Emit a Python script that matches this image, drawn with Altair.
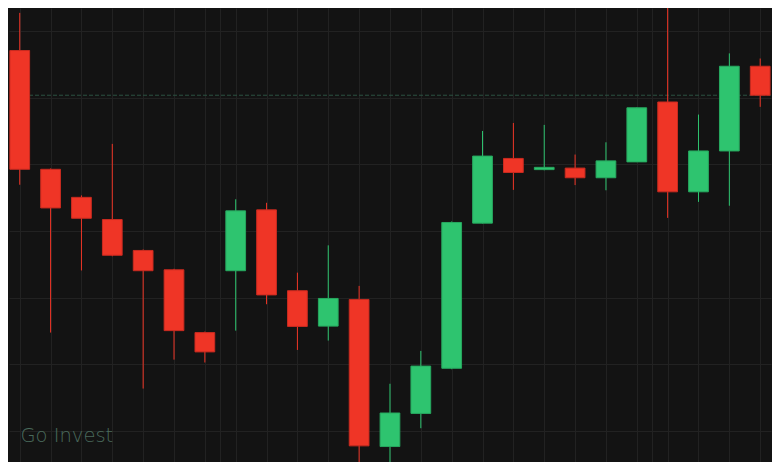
import altair as alt
import pandas as pd

# ---- data ----
idx = list(range(25))
opens = [157.10, 139.28, 135.07, 131.74, 127.10, 124.20, 114.78, 124.06, 133.19, 121.06,
         115.75, 119.75, 97.68, 102.65, 109.42, 131.20, 140.91, 139.23, 139.46, 138.01,
         140.39, 149.38, 135.90, 142.03, 154.74]
closes = [139.28, 133.48, 131.93, 126.38, 124.06, 115.07, 111.88, 133.04, 120.43, 115.70,
          119.90, 97.78, 102.71, 109.75, 131.30, 141.26, 138.80, 139.57, 138.01, 140.54,
          148.51, 135.90, 142.03, 154.74, 150.39]
highs = [162.75, 139.40, 135.36, 143.09, 127.25, 124.35, 114.93, 134.78, 134.25, 123.77,
         127.87, 121.78, 107.10, 112.03, 131.45, 145.03, 146.23, 145.94, 141.49, 143.33,
         148.55, 164.20, 147.49, 156.67, 155.90]
lows = [136.96, 114.78, 124.10, 126.23, 106.38, 110.72, 110.29, 115.07, 119.03, 112.17,
        113.58, 94.49, 94.49, 100.43, 109.28, 131.16, 136.19, 139.13, 136.91, 136.13,
        140.36, 131.99, 134.39, 133.81, 148.65]
x_grid = list(range(25)) + [6.5, 20.5]
y_grid = [100, 110, 120, 130, 140, 150, 160]
last_price = [closes[-1]]
watermark = ["Go Invest"]

BG = "#131313"
GRID = "#222222"
RED = "#ef3526"
GREEN = "#2ec46f"
RED_EDGE = "#c92b20"
GREEN_EDGE = "#27a85f"

df = pd.DataFrame({"i": idx, "open": opens, "close": closes, "high": highs, "low": lows})
df["dir"] = ["up" if c >= o else "down" for o, c in zip(opens, closes)]

xs = alt.Scale(domain=[-0.348, 24.35], nice=False, zero=False)
ys = alt.Scale(domain=[95.36, 163.48], nice=False, zero=False)
xaxis = alt.Axis(values=x_grid, title=None)
yaxis = alt.Axis(values=y_grid, title=None)
fill_scale = alt.Scale(domain=["up", "down"], range=[GREEN, RED])
edge_scale = alt.Scale(domain=["up", "down"], range=[GREEN_EDGE, RED_EDGE])

base = alt.Chart(df)

wicks = base.mark_rule(strokeWidth=1, clip=True).encode(
    x=alt.X("i:Q", scale=xs, axis=xaxis),
    y=alt.Y("low:Q", scale=ys, axis=yaxis),
    y2="high:Q",
    color=alt.Color("dir:N", scale=fill_scale, legend=None),
)

bodies = base.transform_calculate(
    x0="datum.i - 0.32", x1="datum.i + 0.32"
).mark_bar(strokeWidth=1, clip=True).encode(
    x=alt.X("x0:Q", scale=xs, axis=xaxis),
    x2="x1:Q",
    y=alt.Y("open:Q", scale=ys, axis=yaxis),
    y2="close:Q",
    fill=alt.Fill("dir:N", scale=fill_scale, legend=None),
    stroke=alt.Stroke("dir:N", scale=edge_scale, legend=None),
)

price_line = alt.Chart(pd.DataFrame({"p": last_price})).mark_rule(
    color="#2a5040", strokeWidth=1, strokeDash=[4, 2]
).encode(y=alt.Y("p:Q", scale=ys, axis=yaxis))

text = alt.Chart(pd.DataFrame({"t": watermark})).mark_text(
    align="left", baseline="alphabetic", font="DejaVu Sans", fontSize=19.5,
    fontWeight=300, color="#4a6a5c"
).encode(text="t:N", x=alt.value(11.5), y=alt.value(434))

chart = alt.layer(price_line, wicks, bodies, text).properties(
    width=764, height=454,
    autosize=alt.AutoSizeParams(type="fit", contains="padding"),
    padding=0,
    background=BG,
).configure_view(stroke=None, fill=BG).configure_axis(
    labels=False, ticks=False, domain=False, grid=True,
    gridColor=GRID, gridWidth=1, title=None
)

chart.save("out.html", embed_options={"renderer": "svg", "actions": False})
